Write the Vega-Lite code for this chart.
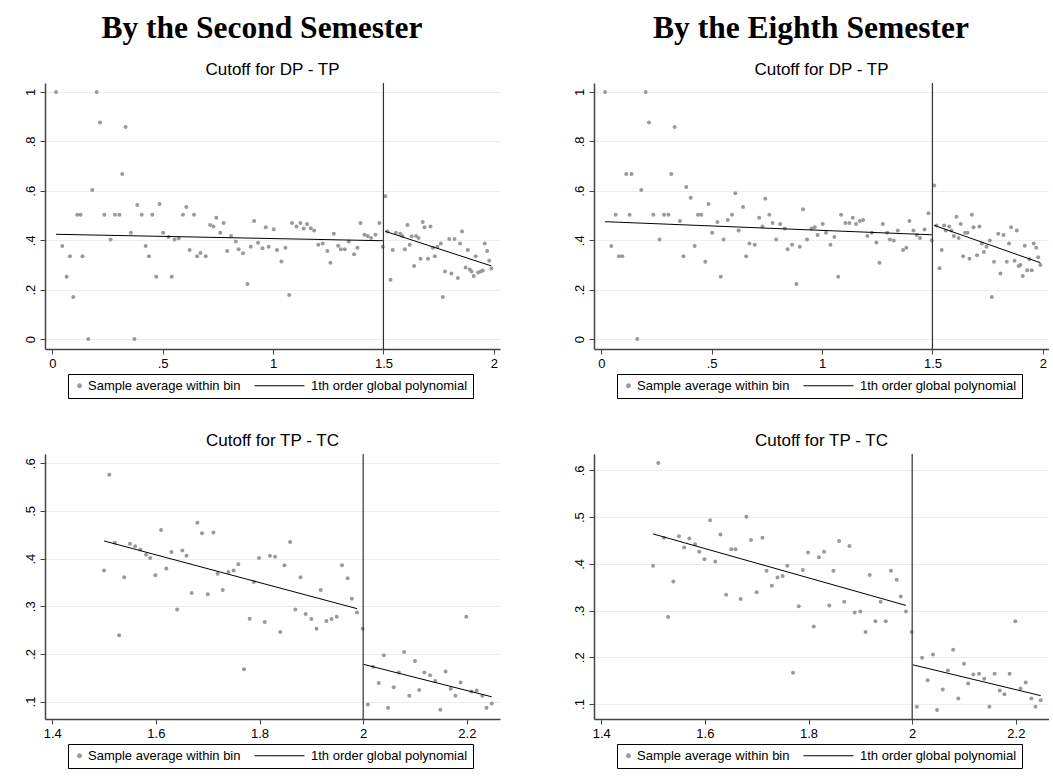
{
  "$schema": "https://vega.github.io/schema/vega-lite/v6.json",
  "padding": {"left": 24, "top": 12, "right": 0, "bottom": 0},
  "background": "white",
  "datasets": {
    "bins": [
      {"p":"TL","x":0.017,"y":1.0},{"p":"TL","x":0.045,"y":0.377},{"p":"TL","x":0.065,"y":0.252},{"p":"TL","x":0.08,"y":0.335},{"p":"TL","x":0.095,"y":0.17},{"p":"TL","x":0.113,"y":0.503},{"p":"TL","x":0.128,"y":0.503},{"p":"TL","x":0.137,"y":0.335},{"p":"TL","x":0.163,"y":0.0},{"p":"TL","x":0.181,"y":0.603},{"p":"TL","x":0.201,"y":1.0},{"p":"TL","x":0.216,"y":0.876},{"p":"TL","x":0.236,"y":0.503},{"p":"TL","x":0.264,"y":0.403},{"p":"TL","x":0.284,"y":0.503},{"p":"TL","x":0.304,"y":0.503},{"p":"TL","x":0.317,"y":0.668},{"p":"TL","x":0.332,"y":0.858},{"p":"TL","x":0.356,"y":0.43},{"p":"TL","x":0.372,"y":0.0},{"p":"TL","x":0.385,"y":0.542},{"p":"TL","x":0.405,"y":0.503},{"p":"TL","x":0.423,"y":0.377},{"p":"TL","x":0.438,"y":0.335},{"p":"TL","x":0.453,"y":0.503},{"p":"TL","x":0.471,"y":0.252},{"p":"TL","x":0.486,"y":0.547},{"p":"TL","x":0.502,"y":0.43},{"p":"TL","x":0.526,"y":0.413},{"p":"TL","x":0.541,"y":0.252},{"p":"TL","x":0.554,"y":0.403},{"p":"TL","x":0.573,"y":0.408},{"p":"TL","x":0.592,"y":0.503},{"p":"TL","x":0.607,"y":0.534},{"p":"TL","x":0.622,"y":0.36},{"p":"TL","x":0.642,"y":0.503},{"p":"TL","x":0.656,"y":0.335},{"p":"TL","x":0.671,"y":0.348},{"p":"TL","x":0.695,"y":0.335},{"p":"TL","x":0.715,"y":0.462},{"p":"TL","x":0.73,"y":0.456},{"p":"TL","x":0.743,"y":0.491},{"p":"TL","x":0.761,"y":0.43},{"p":"TL","x":0.776,"y":0.47},{"p":"TL","x":0.792,"y":0.356},{"p":"TL","x":0.81,"y":0.417},{"p":"TL","x":0.831,"y":0.395},{"p":"TL","x":0.844,"y":0.364},{"p":"TL","x":0.864,"y":0.347},{"p":"TL","x":0.884,"y":0.223},{"p":"TL","x":0.899,"y":0.374},{"p":"TL","x":0.914,"y":0.478},{"p":"TL","x":0.932,"y":0.39},{"p":"TL","x":0.952,"y":0.368},{"p":"TL","x":0.967,"y":0.452},{"p":"TL","x":0.98,"y":0.374},
      {"p":"TL","x":1.003,"y":0.444},{"p":"TL","x":1.018,"y":0.36},{"p":"TL","x":1.038,"y":0.314},{"p":"TL","x":1.056,"y":0.37},{"p":"TL","x":1.073,"y":0.178},{"p":"TL","x":1.086,"y":0.47},{"p":"TL","x":1.106,"y":0.456},{"p":"TL","x":1.124,"y":0.47},{"p":"TL","x":1.139,"y":0.447},{"p":"TL","x":1.154,"y":0.466},{"p":"TL","x":1.171,"y":0.448},{"p":"TL","x":1.186,"y":0.439},{"p":"TL","x":1.205,"y":0.382},{"p":"TL","x":1.225,"y":0.387},{"p":"TL","x":1.246,"y":0.356},{"p":"TL","x":1.26,"y":0.309},{"p":"TL","x":1.275,"y":0.426},{"p":"TL","x":1.295,"y":0.378},{"p":"TL","x":1.307,"y":0.364},{"p":"TL","x":1.325,"y":0.364},{"p":"TL","x":1.343,"y":0.395},{"p":"TL","x":1.367,"y":0.343},{"p":"TL","x":1.382,"y":0.37},{"p":"TL","x":1.396,"y":0.47},{"p":"TL","x":1.414,"y":0.422},{"p":"TL","x":1.429,"y":0.417},{"p":"TL","x":1.444,"y":0.409},{"p":"TL","x":1.464,"y":0.422},{"p":"TL","x":1.482,"y":0.47},{"p":"TL","x":1.497,"y":0.374},
      {"p":"TL","x":1.508,"y":0.578},{"p":"TL","x":1.518,"y":0.435},{"p":"TL","x":1.532,"y":0.24},{"p":"TL","x":1.542,"y":0.36},{"p":"TL","x":1.556,"y":0.43},{"p":"TL","x":1.576,"y":0.426},{"p":"TL","x":1.586,"y":0.417},{"p":"TL","x":1.597,"y":0.364},{"p":"TL","x":1.609,"y":0.462},{"p":"TL","x":1.619,"y":0.382},{"p":"TL","x":1.628,"y":0.416},{"p":"TL","x":1.639,"y":0.296},{"p":"TL","x":1.648,"y":0.417},{"p":"TL","x":1.659,"y":0.409},{"p":"TL","x":1.668,"y":0.325},{"p":"TL","x":1.678,"y":0.474},{"p":"TL","x":1.686,"y":0.452},{"p":"TL","x":1.702,"y":0.325},{"p":"TL","x":1.713,"y":0.456},{"p":"TL","x":1.724,"y":0.37},{"p":"TL","x":1.733,"y":0.335},{"p":"TL","x":1.745,"y":0.374},{"p":"TL","x":1.76,"y":0.387},{"p":"TL","x":1.769,"y":0.17},{"p":"TL","x":1.779,"y":0.274},{"p":"TL","x":1.798,"y":0.405},{"p":"TL","x":1.808,"y":0.265},{"p":"TL","x":1.822,"y":0.405},{"p":"TL","x":1.837,"y":0.247},{"p":"TL","x":1.847,"y":0.387},{"p":"TL","x":1.856,"y":0.435},{"p":"TL","x":1.872,"y":0.29},{"p":"TL","x":1.882,"y":0.36},{"p":"TL","x":1.891,"y":0.282},{"p":"TL","x":1.899,"y":0.274},{"p":"TL","x":1.909,"y":0.255},{"p":"TL","x":1.918,"y":0.335},{"p":"TL","x":1.929,"y":0.269},{"p":"TL","x":1.94,"y":0.274},{"p":"TL","x":1.95,"y":0.278},{"p":"TL","x":1.959,"y":0.387},{"p":"TL","x":1.97,"y":0.356},{"p":"TL","x":1.979,"y":0.317},{"p":"TL","x":1.989,"y":0.286},

      {"p":"TR","x":0.017,"y":1.0},{"p":"TR","x":0.045,"y":0.377},{"p":"TR","x":0.065,"y":0.503},{"p":"TR","x":0.08,"y":0.335},{"p":"TR","x":0.095,"y":0.335},{"p":"TR","x":0.113,"y":0.668},{"p":"TR","x":0.128,"y":0.503},{"p":"TR","x":0.137,"y":0.668},{"p":"TR","x":0.163,"y":0.0},{"p":"TR","x":0.181,"y":0.603},{"p":"TR","x":0.201,"y":1.0},{"p":"TR","x":0.216,"y":0.876},{"p":"TR","x":0.236,"y":0.503},{"p":"TR","x":0.264,"y":0.403},{"p":"TR","x":0.284,"y":0.503},{"p":"TR","x":0.304,"y":0.503},{"p":"TR","x":0.317,"y":0.668},{"p":"TR","x":0.332,"y":0.858},{"p":"TR","x":0.356,"y":0.478},{"p":"TR","x":0.372,"y":0.335},{"p":"TR","x":0.385,"y":0.615},{"p":"TR","x":0.405,"y":0.572},{"p":"TR","x":0.423,"y":0.377},{"p":"TR","x":0.438,"y":0.503},{"p":"TR","x":0.453,"y":0.503},{"p":"TR","x":0.471,"y":0.313},{"p":"TR","x":0.486,"y":0.547},{"p":"TR","x":0.502,"y":0.43},{"p":"TR","x":0.526,"y":0.474},{"p":"TR","x":0.541,"y":0.252},{"p":"TR","x":0.554,"y":0.403},{"p":"TR","x":0.573,"y":0.482},{"p":"TR","x":0.592,"y":0.503},{"p":"TR","x":0.607,"y":0.59},{"p":"TR","x":0.622,"y":0.439},{"p":"TR","x":0.642,"y":0.534},{"p":"TR","x":0.656,"y":0.335},{"p":"TR","x":0.671,"y":0.387},{"p":"TR","x":0.695,"y":0.382},{"p":"TR","x":0.715,"y":0.491},{"p":"TR","x":0.73,"y":0.456},{"p":"TR","x":0.743,"y":0.568},{"p":"TR","x":0.761,"y":0.503},{"p":"TR","x":0.776,"y":0.47},{"p":"TR","x":0.792,"y":0.403},{"p":"TR","x":0.81,"y":0.466},{"p":"TR","x":0.831,"y":0.447},{"p":"TR","x":0.844,"y":0.364},{"p":"TR","x":0.864,"y":0.382},{"p":"TR","x":0.884,"y":0.223},{"p":"TR","x":0.899,"y":0.374},{"p":"TR","x":0.914,"y":0.525},{"p":"TR","x":0.932,"y":0.403},{"p":"TR","x":0.952,"y":0.447},{"p":"TR","x":0.967,"y":0.452},{"p":"TR","x":0.98,"y":0.421},
      {"p":"TR","x":1.003,"y":0.466},{"p":"TR","x":1.018,"y":0.43},{"p":"TR","x":1.038,"y":0.382},{"p":"TR","x":1.056,"y":0.413},{"p":"TR","x":1.073,"y":0.252},{"p":"TR","x":1.086,"y":0.503},{"p":"TR","x":1.106,"y":0.47},{"p":"TR","x":1.124,"y":0.47},{"p":"TR","x":1.139,"y":0.491},{"p":"TR","x":1.154,"y":0.466},{"p":"TR","x":1.171,"y":0.478},{"p":"TR","x":1.186,"y":0.482},{"p":"TR","x":1.205,"y":0.417},{"p":"TR","x":1.225,"y":0.43},{"p":"TR","x":1.246,"y":0.391},{"p":"TR","x":1.26,"y":0.309},{"p":"TR","x":1.275,"y":0.466},{"p":"TR","x":1.295,"y":0.43},{"p":"TR","x":1.307,"y":0.403},{"p":"TR","x":1.325,"y":0.399},{"p":"TR","x":1.343,"y":0.439},{"p":"TR","x":1.367,"y":0.36},{"p":"TR","x":1.382,"y":0.37},{"p":"TR","x":1.396,"y":0.478},{"p":"TR","x":1.414,"y":0.439},{"p":"TR","x":1.429,"y":0.421},{"p":"TR","x":1.444,"y":0.409},{"p":"TR","x":1.464,"y":0.443},{"p":"TR","x":1.482,"y":0.509},{"p":"TR","x":1.497,"y":0.399},
      {"p":"TR","x":1.508,"y":0.621},{"p":"TR","x":1.518,"y":0.46},{"p":"TR","x":1.532,"y":0.287},{"p":"TR","x":1.542,"y":0.36},{"p":"TR","x":1.553,"y":0.46},{"p":"TR","x":1.56,"y":0.439},{"p":"TR","x":1.576,"y":0.456},{"p":"TR","x":1.586,"y":0.439},{"p":"TR","x":1.597,"y":0.417},{"p":"TR","x":1.609,"y":0.495},{"p":"TR","x":1.619,"y":0.409},{"p":"TR","x":1.628,"y":0.466},{"p":"TR","x":1.639,"y":0.335},{"p":"TR","x":1.648,"y":0.43},{"p":"TR","x":1.659,"y":0.43},{"p":"TR","x":1.668,"y":0.325},{"p":"TR","x":1.678,"y":0.503},{"p":"TR","x":1.686,"y":0.452},{"p":"TR","x":1.702,"y":0.339},{"p":"TR","x":1.713,"y":0.456},{"p":"TR","x":1.724,"y":0.387},{"p":"TR","x":1.733,"y":0.352},{"p":"TR","x":1.745,"y":0.374},{"p":"TR","x":1.76,"y":0.399},{"p":"TR","x":1.769,"y":0.17},{"p":"TR","x":1.779,"y":0.313},{"p":"TR","x":1.798,"y":0.426},{"p":"TR","x":1.808,"y":0.265},{"p":"TR","x":1.822,"y":0.421},{"p":"TR","x":1.837,"y":0.313},{"p":"TR","x":1.847,"y":0.387},{"p":"TR","x":1.856,"y":0.452},{"p":"TR","x":1.872,"y":0.317},{"p":"TR","x":1.882,"y":0.439},{"p":"TR","x":1.891,"y":0.296},{"p":"TR","x":1.899,"y":0.3},{"p":"TR","x":1.909,"y":0.255},{"p":"TR","x":1.918,"y":0.378},{"p":"TR","x":1.929,"y":0.279},{"p":"TR","x":1.94,"y":0.323},{"p":"TR","x":1.95,"y":0.279},{"p":"TR","x":1.959,"y":0.387},{"p":"TR","x":1.97,"y":0.37},{"p":"TR","x":1.979,"y":0.331},{"p":"TR","x":1.989,"y":0.3},

      {"p":"BL","x":1.5,"y":0.375},{"p":"BL","x":1.51,"y":0.576},{"p":"BL","x":1.521,"y":0.433},{"p":"BL","x":1.529,"y":0.239},{"p":"BL","x":1.539,"y":0.361},{"p":"BL","x":1.55,"y":0.431},{"p":"BL","x":1.56,"y":0.426},{"p":"BL","x":1.57,"y":0.419},{"p":"BL","x":1.581,"y":0.408},{"p":"BL","x":1.589,"y":0.401},{"p":"BL","x":1.599,"y":0.365},{"p":"BL","x":1.61,"y":0.46},{"p":"BL","x":1.62,"y":0.379},{"p":"BL","x":1.63,"y":0.414},{"p":"BL","x":1.641,"y":0.293},{"p":"BL","x":1.651,"y":0.417},{"p":"BL","x":1.659,"y":0.406},{"p":"BL","x":1.669,"y":0.328},{"p":"BL","x":1.68,"y":0.475},{"p":"BL","x":1.689,"y":0.453},{"p":"BL","x":1.7,"y":0.325},{"p":"BL","x":1.711,"y":0.455},{"p":"BL","x":1.719,"y":0.368},{"p":"BL","x":1.729,"y":0.334},{"p":"BL","x":1.74,"y":0.372},{"p":"BL","x":1.75,"y":0.375},{"p":"BL","x":1.759,"y":0.388},{"p":"BL","x":1.77,"y":0.168},{"p":"BL","x":1.781,"y":0.274},{"p":"BL","x":1.789,"y":0.351},{"p":"BL","x":1.799,"y":0.401},{"p":"BL","x":1.81,"y":0.267},{"p":"BL","x":1.82,"y":0.406},{"p":"BL","x":1.83,"y":0.404},{"p":"BL","x":1.84,"y":0.246},{"p":"BL","x":1.848,"y":0.386},{"p":"BL","x":1.859,"y":0.435},{"p":"BL","x":1.869,"y":0.293},{"p":"BL","x":1.879,"y":0.361},{"p":"BL","x":1.889,"y":0.284},{"p":"BL","x":1.9,"y":0.273},{"p":"BL","x":1.91,"y":0.253},{"p":"BL","x":1.918,"y":0.334},{"p":"BL","x":1.929,"y":0.269},{"p":"BL","x":1.939,"y":0.273},{"p":"BL","x":1.949,"y":0.278},{"p":"BL","x":1.959,"y":0.386},{"p":"BL","x":1.97,"y":0.359},{"p":"BL","x":1.978,"y":0.316},{"p":"BL","x":1.988,"y":0.287},{"p":"BL","x":1.999,"y":0.253},
      {"p":"BL","x":2.009,"y":0.094},{"p":"BL","x":2.019,"y":0.173},{"p":"BL","x":2.03,"y":0.139},{"p":"BL","x":2.04,"y":0.197},{"p":"BL","x":2.048,"y":0.087},{"p":"BL","x":2.059,"y":0.13},{"p":"BL","x":2.069,"y":0.161},{"p":"BL","x":2.079,"y":0.204},{"p":"BL","x":2.089,"y":0.112},{"p":"BL","x":2.1,"y":0.185},{"p":"BL","x":2.108,"y":0.124},{"p":"BL","x":2.118,"y":0.161},{"p":"BL","x":2.129,"y":0.155},{"p":"BL","x":2.139,"y":0.143},{"p":"BL","x":2.149,"y":0.083},{"p":"BL","x":2.159,"y":0.163},{"p":"BL","x":2.169,"y":0.127},{"p":"BL","x":2.178,"y":0.112},{"p":"BL","x":2.188,"y":0.14},{"p":"BL","x":2.199,"y":0.278},{"p":"BL","x":2.209,"y":0.121},{"p":"BL","x":2.219,"y":0.123},{"p":"BL","x":2.23,"y":0.112},{"p":"BL","x":2.238,"y":0.087},{"p":"BL","x":2.248,"y":0.096},

      {"p":"BR","x":1.5,"y":0.396},{"p":"BR","x":1.51,"y":0.616},{"p":"BR","x":1.521,"y":0.456},{"p":"BR","x":1.529,"y":0.286},{"p":"BR","x":1.539,"y":0.362},{"p":"BR","x":1.55,"y":0.459},{"p":"BR","x":1.56,"y":0.435},{"p":"BR","x":1.57,"y":0.454},{"p":"BR","x":1.581,"y":0.442},{"p":"BR","x":1.589,"y":0.426},{"p":"BR","x":1.599,"y":0.41},{"p":"BR","x":1.61,"y":0.493},{"p":"BR","x":1.62,"y":0.405},{"p":"BR","x":1.63,"y":0.463},{"p":"BR","x":1.641,"y":0.334},{"p":"BR","x":1.651,"y":0.431},{"p":"BR","x":1.659,"y":0.431},{"p":"BR","x":1.669,"y":0.325},{"p":"BR","x":1.68,"y":0.501},{"p":"BR","x":1.689,"y":0.451},{"p":"BR","x":1.7,"y":0.339},{"p":"BR","x":1.711,"y":0.456},{"p":"BR","x":1.719,"y":0.385},{"p":"BR","x":1.729,"y":0.353},{"p":"BR","x":1.74,"y":0.371},{"p":"BR","x":1.75,"y":0.374},{"p":"BR","x":1.759,"y":0.396},{"p":"BR","x":1.77,"y":0.167},{"p":"BR","x":1.781,"y":0.309},{"p":"BR","x":1.789,"y":0.387},{"p":"BR","x":1.799,"y":0.424},{"p":"BR","x":1.81,"y":0.266},{"p":"BR","x":1.82,"y":0.414},{"p":"BR","x":1.83,"y":0.426},{"p":"BR","x":1.84,"y":0.311},{"p":"BR","x":1.848,"y":0.385},{"p":"BR","x":1.859,"y":0.449},{"p":"BR","x":1.869,"y":0.319},{"p":"BR","x":1.879,"y":0.438},{"p":"BR","x":1.889,"y":0.296},{"p":"BR","x":1.9,"y":0.298},{"p":"BR","x":1.91,"y":0.254},{"p":"BR","x":1.918,"y":0.376},{"p":"BR","x":1.929,"y":0.277},{"p":"BR","x":1.939,"y":0.319},{"p":"BR","x":1.949,"y":0.277},{"p":"BR","x":1.959,"y":0.385},{"p":"BR","x":1.97,"y":0.366},{"p":"BR","x":1.978,"y":0.33},{"p":"BR","x":1.988,"y":0.298},{"p":"BR","x":1.999,"y":0.254},
      {"p":"BR","x":2.009,"y":0.094},{"p":"BR","x":2.019,"y":0.199},{"p":"BR","x":2.03,"y":0.151},{"p":"BR","x":2.04,"y":0.206},{"p":"BR","x":2.048,"y":0.087},{"p":"BR","x":2.059,"y":0.131},{"p":"BR","x":2.069,"y":0.172},{"p":"BR","x":2.079,"y":0.216},{"p":"BR","x":2.089,"y":0.112},{"p":"BR","x":2.1,"y":0.186},{"p":"BR","x":2.108,"y":0.144},{"p":"BR","x":2.118,"y":0.163},{"p":"BR","x":2.129,"y":0.165},{"p":"BR","x":2.139,"y":0.154},{"p":"BR","x":2.149,"y":0.094},{"p":"BR","x":2.159,"y":0.165},{"p":"BR","x":2.169,"y":0.129},{"p":"BR","x":2.178,"y":0.121},{"p":"BR","x":2.188,"y":0.165},{"p":"BR","x":2.199,"y":0.277},{"p":"BR","x":2.209,"y":0.133},{"p":"BR","x":2.219,"y":0.146},{"p":"BR","x":2.23,"y":0.112},{"p":"BR","x":2.238,"y":0.094},{"p":"BR","x":2.248,"y":0.108}
    ],
    "fit": [
      {"p":"TL","s":"L","x":0.017,"y":0.424},{"p":"TL","s":"L","x":1.497,"y":0.398},{"p":"TL","s":"R","x":1.508,"y":0.436},{"p":"TL","s":"R","x":1.989,"y":0.296},
      {"p":"TR","s":"L","x":0.017,"y":0.475},{"p":"TR","s":"L","x":1.497,"y":0.422},{"p":"TR","s":"R","x":1.508,"y":0.46},{"p":"TR","s":"R","x":1.989,"y":0.309},
      {"p":"BL","s":"L","x":1.5,"y":0.437},{"p":"BL","s":"L","x":1.988,"y":0.295},{"p":"BL","s":"R","x":2.001,"y":0.178},{"p":"BL","s":"R","x":2.248,"y":0.11},
      {"p":"BR","s":"L","x":1.5,"y":0.464},{"p":"BR","s":"L","x":1.988,"y":0.311},{"p":"BR","s":"R","x":2.001,"y":0.184},{"p":"BR","s":"R","x":2.248,"y":0.118}
    ]
  },
  "hconcat": [
    {
      "title": {"text": "By the Second Semester"},
      "spacing": 33,
      "resolve": {"scale": {"color": "independent"}, "legend": {"color": "independent"}},
      "vconcat": [
        {
          "title": {"text": "Cutoff for DP - TP", "font": "Liberation Sans", "fontSize": 17, "fontWeight": "normal", "offset": 3},
          "width": 455, "height": 266,
          "layer": [
            {"data": {"name": "bins"}, "transform": [{"filter": "datum.p === 'TL'"}],
             "mark": {"type": "point", "filled": true, "size": 16, "opacity": 1},
             "encoding": {
               "x": {"field": "x", "type": "quantitative", "scale": {"domain": [-0.033, 2.028], "nice": false, "zero": false}, "axis": {"values": [0, 0.5, 1, 1.5, 2]}},
               "y": {"field": "y", "type": "quantitative", "scale": {"domain": [-0.04, 1.036], "nice": false, "zero": false}, "axis": {"values": [0, 0.2, 0.4, 0.6, 0.8, 1]}},
               "color": {"datum": "Sample average within bin", "type": "nominal",
                 "scale": {"domain": ["Sample average within bin", "1th order global polynomial"], "range": ["#9a9a9a", "#000000"]},
                 "legend": {"title": null, "orient": "none", "legendX": 23, "legendY": 291, "direction": "horizontal", "strokeColor": "#000", "padding": 5, "columnPadding": 11, "labelOffset": 2, "symbolSize": 16,
                   "encode": {"symbols": {"update": {
                     "shape": [{"test": "datum.value === '1th order global polynomial'", "value": "M-24,0H1"}, {"value": "circle"}],
                     "fill": [{"test": "datum.value === 'Sample average within bin'", "value": "#9a9a9a"}, {"value": "transparent"}],
                     "stroke": [{"test": "datum.value === '1th order global polynomial'", "value": "#000000"}, {"value": "transparent"}],
                     "strokeWidth": {"value": 1}, "opacity": {"value": 1}, "size": {"value": 16}}}}}}
             }},
            {"data": {"name": "fit"}, "transform": [{"filter": "datum.p === 'TL'"}],
             "mark": {"type": "line", "strokeWidth": 1},
             "encoding": {"x": {"field": "x", "type": "quantitative"}, "y": {"field": "y", "type": "quantitative"}, "detail": {"field": "s"},
               "color": {"datum": "1th order global polynomial", "type": "nominal",
                 "legend": {"title": null, "orient": "none", "legendX": 23, "legendY": 291, "direction": "horizontal", "strokeColor": "#000", "padding": 5, "columnPadding": 11, "labelOffset": 2, "symbolSize": 16,
                   "encode": {"symbols": {"update": {
                     "shape": [{"test": "datum.value === '1th order global polynomial'", "value": "M-24,0H1"}, {"value": "circle"}],
                     "fill": [{"test": "datum.value === 'Sample average within bin'", "value": "#9a9a9a"}, {"value": "transparent"}],
                     "stroke": [{"test": "datum.value === '1th order global polynomial'", "value": "#000000"}, {"value": "transparent"}],
                     "strokeWidth": {"value": 1}, "opacity": {"value": 1}, "size": {"value": 16}}}}}}}},
            {"data": {"values": [{}]}, "mark": {"type": "rule", "color": "#333333", "strokeWidth": 1.2}, "encoding": {"x": {"datum": 1.5}}}
          ]
        },
        {
          "title": {"text": "Cutoff for TP - TC", "font": "Liberation Sans", "fontSize": 17, "fontWeight": "normal", "offset": 3},
          "width": 455, "height": 265,
          "layer": [
            {"data": {"name": "bins"}, "transform": [{"filter": "datum.p === 'BL'"}],
             "mark": {"type": "point", "filled": true, "size": 16, "opacity": 1},
             "encoding": {
               "x": {"field": "x", "type": "quantitative", "scale": {"domain": [1.386, 2.264], "nice": false, "zero": false}, "axis": {"values": [1.4, 1.6, 1.8, 2, 2.2]}},
               "y": {"field": "y", "type": "quantitative", "scale": {"domain": [0.0634, 0.6195], "nice": false, "zero": false}, "axis": {"values": [0.1, 0.2, 0.3, 0.4, 0.5, 0.6]}},
               "color": {"datum": "Sample average within bin", "type": "nominal",
                 "scale": {"domain": ["Sample average within bin", "1th order global polynomial"], "range": ["#9a9a9a", "#000000"]},
                 "legend": {"title": null, "orient": "none", "legendX": 23, "legendY": 290, "direction": "horizontal", "strokeColor": "#000", "padding": 5, "columnPadding": 11, "labelOffset": 2, "symbolSize": 16,
                   "encode": {"symbols": {"update": {
                     "shape": [{"test": "datum.value === '1th order global polynomial'", "value": "M-24,0H1"}, {"value": "circle"}],
                     "fill": [{"test": "datum.value === 'Sample average within bin'", "value": "#9a9a9a"}, {"value": "transparent"}],
                     "stroke": [{"test": "datum.value === '1th order global polynomial'", "value": "#000000"}, {"value": "transparent"}],
                     "strokeWidth": {"value": 1}, "opacity": {"value": 1}, "size": {"value": 16}}}}}}
             }},
            {"data": {"name": "fit"}, "transform": [{"filter": "datum.p === 'BL'"}],
             "mark": {"type": "line", "strokeWidth": 1},
             "encoding": {"x": {"field": "x", "type": "quantitative"}, "y": {"field": "y", "type": "quantitative"}, "detail": {"field": "s"},
               "color": {"datum": "1th order global polynomial", "type": "nominal",
                 "legend": {"title": null, "orient": "none", "legendX": 23, "legendY": 290, "direction": "horizontal", "strokeColor": "#000", "padding": 5, "columnPadding": 11, "labelOffset": 2, "symbolSize": 16,
                   "encode": {"symbols": {"update": {
                     "shape": [{"test": "datum.value === '1th order global polynomial'", "value": "M-24,0H1"}, {"value": "circle"}],
                     "fill": [{"test": "datum.value === 'Sample average within bin'", "value": "#9a9a9a"}, {"value": "transparent"}],
                     "stroke": [{"test": "datum.value === '1th order global polynomial'", "value": "#000000"}, {"value": "transparent"}],
                     "strokeWidth": {"value": 1}, "opacity": {"value": 1}, "size": {"value": 16}}}}}}}},
            {"data": {"values": [{}]}, "mark": {"type": "rule", "color": "#333333", "strokeWidth": 1.2}, "encoding": {"x": {"datum": 2}}}
          ]
        }
      ]
    },
    {
      "title": {"text": "By the Eighth Semester"},
      "spacing": 33,
      "resolve": {"scale": {"color": "independent"}, "legend": {"color": "independent"}},
      "vconcat": [
        {
          "title": {"text": "Cutoff for DP - TP", "font": "Liberation Sans", "fontSize": 17, "fontWeight": "normal", "offset": 3},
          "width": 455, "height": 266,
          "layer": [
            {"data": {"name": "bins"}, "transform": [{"filter": "datum.p === 'TR'"}],
             "mark": {"type": "point", "filled": true, "size": 16, "opacity": 1},
             "encoding": {
               "x": {"field": "x", "type": "quantitative", "scale": {"domain": [-0.033, 2.028], "nice": false, "zero": false}, "axis": {"values": [0, 0.5, 1, 1.5, 2]}},
               "y": {"field": "y", "type": "quantitative", "scale": {"domain": [-0.04, 1.036], "nice": false, "zero": false}, "axis": {"values": [0, 0.2, 0.4, 0.6, 0.8, 1]}},
               "color": {"datum": "Sample average within bin", "type": "nominal",
                 "scale": {"domain": ["Sample average within bin", "1th order global polynomial"], "range": ["#9a9a9a", "#000000"]},
                 "legend": {"title": null, "orient": "none", "legendX": 23, "legendY": 291, "direction": "horizontal", "strokeColor": "#000", "padding": 5, "columnPadding": 11, "labelOffset": 2, "symbolSize": 16,
                   "encode": {"symbols": {"update": {
                     "shape": [{"test": "datum.value === '1th order global polynomial'", "value": "M-24,0H1"}, {"value": "circle"}],
                     "fill": [{"test": "datum.value === 'Sample average within bin'", "value": "#9a9a9a"}, {"value": "transparent"}],
                     "stroke": [{"test": "datum.value === '1th order global polynomial'", "value": "#000000"}, {"value": "transparent"}],
                     "strokeWidth": {"value": 1}, "opacity": {"value": 1}, "size": {"value": 16}}}}}}
             }},
            {"data": {"name": "fit"}, "transform": [{"filter": "datum.p === 'TR'"}],
             "mark": {"type": "line", "strokeWidth": 1},
             "encoding": {"x": {"field": "x", "type": "quantitative"}, "y": {"field": "y", "type": "quantitative"}, "detail": {"field": "s"},
               "color": {"datum": "1th order global polynomial", "type": "nominal",
                 "legend": {"title": null, "orient": "none", "legendX": 23, "legendY": 291, "direction": "horizontal", "strokeColor": "#000", "padding": 5, "columnPadding": 11, "labelOffset": 2, "symbolSize": 16,
                   "encode": {"symbols": {"update": {
                     "shape": [{"test": "datum.value === '1th order global polynomial'", "value": "M-24,0H1"}, {"value": "circle"}],
                     "fill": [{"test": "datum.value === 'Sample average within bin'", "value": "#9a9a9a"}, {"value": "transparent"}],
                     "stroke": [{"test": "datum.value === '1th order global polynomial'", "value": "#000000"}, {"value": "transparent"}],
                     "strokeWidth": {"value": 1}, "opacity": {"value": 1}, "size": {"value": 16}}}}}}}},
            {"data": {"values": [{}]}, "mark": {"type": "rule", "color": "#333333", "strokeWidth": 1.2}, "encoding": {"x": {"datum": 1.5}}}
          ]
        },
        {
          "title": {"text": "Cutoff for TP - TC", "font": "Liberation Sans", "fontSize": 17, "fontWeight": "normal", "offset": 3},
          "width": 455, "height": 265,
          "layer": [
            {"data": {"name": "bins"}, "transform": [{"filter": "datum.p === 'BR'"}],
             "mark": {"type": "point", "filled": true, "size": 16, "opacity": 1},
             "encoding": {
               "x": {"field": "x", "type": "quantitative", "scale": {"domain": [1.386, 2.264], "nice": false, "zero": false}, "axis": {"values": [1.4, 1.6, 1.8, 2, 2.2]}},
               "y": {"field": "y", "type": "quantitative", "scale": {"domain": [0.068, 0.635], "nice": false, "zero": false}, "axis": {"values": [0.1, 0.2, 0.3, 0.4, 0.5, 0.6]}},
               "color": {"datum": "Sample average within bin", "type": "nominal",
                 "scale": {"domain": ["Sample average within bin", "1th order global polynomial"], "range": ["#9a9a9a", "#000000"]},
                 "legend": {"title": null, "orient": "none", "legendX": 23, "legendY": 290, "direction": "horizontal", "strokeColor": "#000", "padding": 5, "columnPadding": 11, "labelOffset": 2, "symbolSize": 16,
                   "encode": {"symbols": {"update": {
                     "shape": [{"test": "datum.value === '1th order global polynomial'", "value": "M-24,0H1"}, {"value": "circle"}],
                     "fill": [{"test": "datum.value === 'Sample average within bin'", "value": "#9a9a9a"}, {"value": "transparent"}],
                     "stroke": [{"test": "datum.value === '1th order global polynomial'", "value": "#000000"}, {"value": "transparent"}],
                     "strokeWidth": {"value": 1}, "opacity": {"value": 1}, "size": {"value": 16}}}}}}
             }},
            {"data": {"name": "fit"}, "transform": [{"filter": "datum.p === 'BR'"}],
             "mark": {"type": "line", "strokeWidth": 1},
             "encoding": {"x": {"field": "x", "type": "quantitative"}, "y": {"field": "y", "type": "quantitative"}, "detail": {"field": "s"},
               "color": {"datum": "1th order global polynomial", "type": "nominal",
                 "legend": {"title": null, "orient": "none", "legendX": 23, "legendY": 290, "direction": "horizontal", "strokeColor": "#000", "padding": 5, "columnPadding": 11, "labelOffset": 2, "symbolSize": 16,
                   "encode": {"symbols": {"update": {
                     "shape": [{"test": "datum.value === '1th order global polynomial'", "value": "M-24,0H1"}, {"value": "circle"}],
                     "fill": [{"test": "datum.value === 'Sample average within bin'", "value": "#9a9a9a"}, {"value": "transparent"}],
                     "stroke": [{"test": "datum.value === '1th order global polynomial'", "value": "#000000"}, {"value": "transparent"}],
                     "strokeWidth": {"value": 1}, "opacity": {"value": 1}, "size": {"value": 16}}}}}}}},
            {"data": {"values": [{}]}, "mark": {"type": "rule", "color": "#333333", "strokeWidth": 1.2}, "encoding": {"x": {"datum": 2}}}
          ]
        }
      ]
    }
  ],
  "spacing": 73,
  "resolve": {"scale": {"color": "independent"}, "legend": {"color": "independent"}},
  "config": {
    "font": "Liberation Sans",
    "view": {"stroke": null},
    "title": {"font": "Liberation Serif", "fontSize": 31.5, "fontWeight": "bold", "color": "#000000", "anchor": "middle", "offset": 17},
    "axis": {"title": null, "domainColor": "#444444", "domainWidth": 1.5, "tickColor": "#444444", "tickSize": 5, "labelFont": "Liberation Sans", "labelFontSize": 13, "labelColor": "#000000", "labelPadding": 3, "gridColor": "#e6eef0",
      "labelExpr": "datum.value > 0 && datum.value < 1 ? substring(format(datum.value, '~g'), 1) : format(datum.value, '~g')"},
    "axisX": {"grid": false},
    "axisY": {"grid": true, "labelAngle": -90},
    "legend": {"labelFont": "Liberation Sans", "labelFontSize": 13, "labelColor": "#000000"}
  }
}
